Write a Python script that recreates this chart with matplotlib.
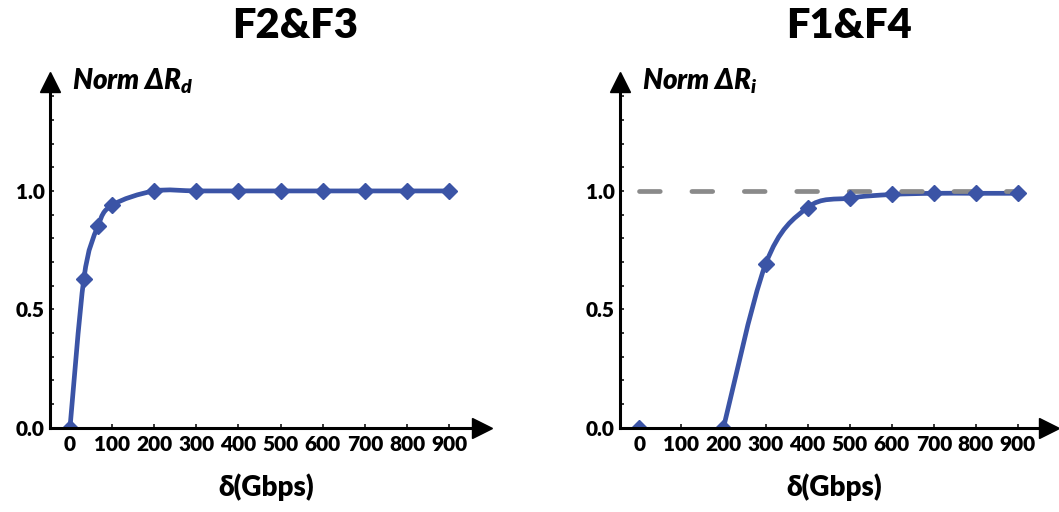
import numpy as np
import matplotlib
matplotlib.use("Agg")
import matplotlib.pyplot as plt
from matplotlib.path import Path
from matplotlib.patches import PathPatch

plt.rcParams['font.family'] = ['Lato', 'DejaVu Sans']
plt.rcParams['font.weight'] = 'heavy'
plt.rcParams['mathtext.fontset'] = 'custom'
plt.rcParams['mathtext.it'] = 'Lato:italic:heavy'
plt.rcParams['mathtext.rm'] = 'Lato:heavy'

# data
x_d = [0, 33, 66, 100, 200, 300, 400, 500, 600, 700, 800, 900]
y_d = [0.0, 0.63, 0.85, 0.94, 1.0, 1.0, 1.0, 1.0, 1.0, 1.0, 1.0, 1.0]

x_i = [0, 200, 300, 400, 500, 600, 700, 800, 900]
y_i = [0.0, 0.0, 0.69, 0.93, 0.97, 0.985, 0.99, 0.99, 0.99]

ref_x = [0, 900]
ref_y = [1.0, 1.0]

xticks = [0, 100, 200, 300, 400, 500, 600, 700, 800, 900]
titles = ["F2&F3", "F1&F4"]
ylabels = ["Norm ΔR$_d$", "Norm ΔR$_i$"]
xlabel = "δ(Gbps)"

blue = "#3b54a6"
gray = "#8a8a8a"


def smooth_path(xs, ys):
    # excel style smoothed line: cubic bezier between neighbouring points
    p = np.column_stack([xs, ys]).astype(float)
    n = len(p)
    verts = [p[0]]
    codes = [Path.MOVETO]
    for k in range(n - 1):
        a = p[k - 1] if k > 0 else p[k]
        b = p[k + 2] if k + 2 < n else p[k + 1]
        c1 = p[k] + (p[k + 1] - a) / 6
        c2 = p[k + 1] - (b - p[k]) / 6
        verts += [c1, c2, p[k + 1]]
        codes += [Path.CURVE4] * 3
    return Path(verts, codes)


fig = plt.figure(figsize=(10.59, 5.12), dpi=100)
ax1 = fig.add_axes([0.0472, 0.1646, 0.4079, 0.6752])
ax2 = fig.add_axes([0.5855, 0.1646, 0.4051, 0.6752])

ax1.set_xlim(-47.5, 978)
ax2.set_xlim(-45.9, 974)

for ax in (ax1, ax2):
    ax.set_ylim(0, 1.46)
    for s in ('top', 'right'):
        ax.spines[s].set_visible(False)
    for s in ('left', 'bottom'):
        ax.spines[s].set_linewidth(2.2)
    ax.set_xticks(xticks)
    ax.set_yticks([0, 0.5, 1.0])
    ax.set_yticklabels(["0.0", "0.5", "1.0"])
    ax.set_yticks(np.arange(0.1, 1.45, 0.1), minor=True)
    ax.tick_params(axis='both', which='both', direction='in', length=3, width=1.1,
                   labelsize=15, pad=5)
    ax.tick_params(axis='y', which='both', pad=4)
    # arrow heads
    ax.plot(1, 0, ">", color='k', ms=14, transform=ax.transAxes, clip_on=False)
    ax.plot(0, 1, "^", color='k', ms=14, transform=ax.transAxes, clip_on=False)
    ax.set_xlabel(xlabel, fontsize=20, fontweight='heavy', labelpad=14)

# left panel
ax1.add_patch(PathPatch(smooth_path(x_d, y_d), fill=False, edgecolor=blue, lw=3.4,
                        capstyle='round', joinstyle='round'))
ax1.plot(x_d, y_d, 'D', color=blue, ms=8.5)

# right panel
ax2.add_patch(PathPatch(smooth_path(x_i[1:], y_i[1:]), fill=False, edgecolor=blue, lw=3.4,
                        capstyle='round', joinstyle='round'))
ax2.plot(ref_x, ref_y, color=gray, lw=3.4, dashes=(4.4, 6.7), dash_capstyle='round')
ax2.plot(x_i, y_i, 'D', color=blue, ms=8.5)

for ax, lab in zip((ax1, ax2), ylabels):
    ax.text(0.051, 0.977, lab, transform=ax.transAxes, fontsize=20, fontweight='heavy',
            fontstyle='italic', va='baseline', ha='left')

fig.text(0.279, 0.95, titles[0], fontsize=30, fontweight='heavy', ha='center', va='center')
fig.text(0.802, 0.95, titles[1], fontsize=30, fontweight='heavy', ha='center', va='center')

fig.savefig("out.png", dpi=100)
